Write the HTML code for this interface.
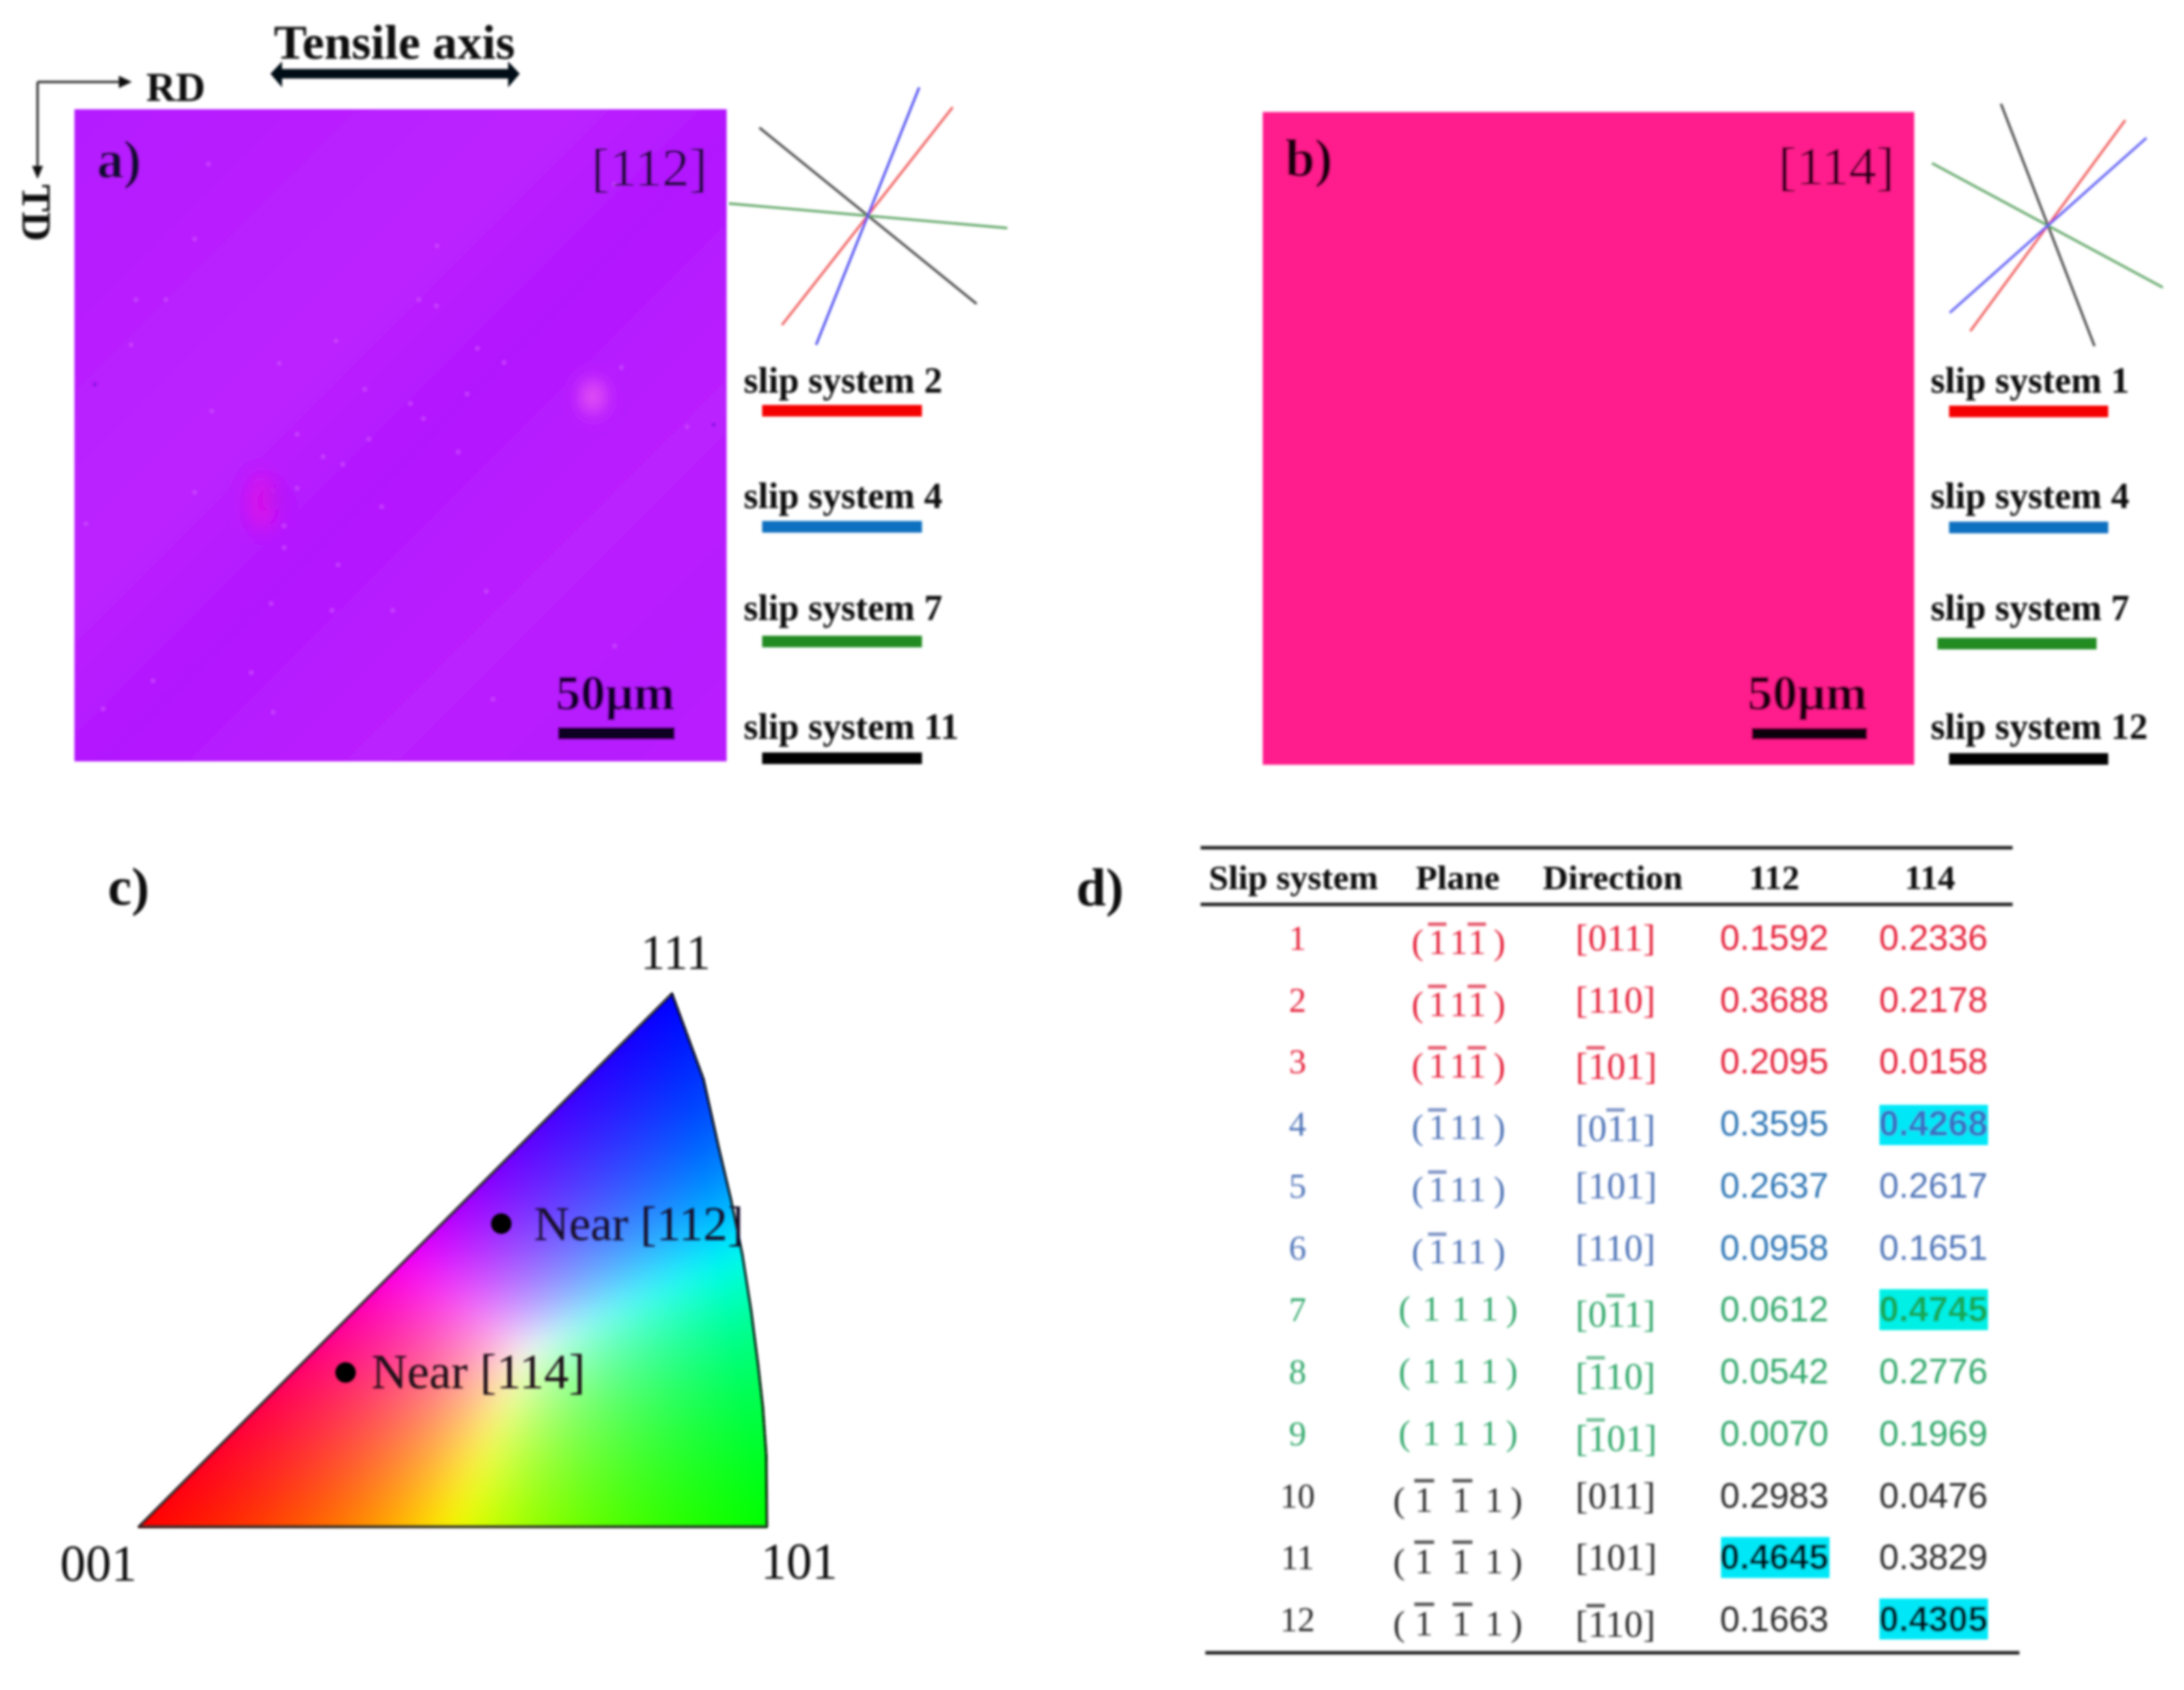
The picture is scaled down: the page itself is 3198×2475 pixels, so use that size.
<!DOCTYPE html>
<html lang="en">
<head>
<meta charset="utf-8">
<title>Slip systems in [112] and [114] grains</title>
<style>
html,body{margin:0;padding:0;background:#fff;width:3198px;height:2475px;overflow:hidden}
#ipf{position:absolute;left:0;top:0;filter:blur(1.4px)}
#fig{position:absolute;left:0;top:0}
text{font-family:"Liberation Serif",serif;fill:#0a0a0a}
.b{font-weight:bold}
.leg{font-weight:bold;font-size:54px;fill:#111}
.lab{font-weight:bold;font-size:78px}
.hd{font-weight:bold;font-size:50px}
.n{font-size:51px;text-anchor:middle}
.p{font-size:52px}
.d{font-size:55px}
.v{font-family:"Liberation Sans",sans-serif;font-size:52px;text-anchor:middle}
.vb{font-family:"Liberation Sans",sans-serif;font-size:52px;font-weight:bold;text-anchor:middle}
.red text{fill:#e5243b}.red rect.o{fill:#e5566a}
.blu text{fill:#4f74b8}.blu rect.o{fill:#7d93c5}
.grn text{fill:#33a86c}.grn rect.o{fill:#6fbf95}
.blk text{fill:#2a2a2a}.blk rect.o{fill:#555}
.c112{fill:#2f76b5 !important}
</style>
</head>
<body>
<canvas id="ipf" width="1300" height="2300"></canvas>
<svg id="fig" xmlns="http://www.w3.org/2000/svg" width="3198" height="2475" viewBox="0 0 3198 2475">
<defs>
<filter id="soft" filterUnits="userSpaceOnUse" x="0" y="0" width="3198" height="2475"><feGaussianBlur stdDeviation="1.8"/></filter>
<filter id="glow" filterUnits="userSpaceOnUse" x="0" y="0" width="3198" height="2475"><feGaussianBlur stdDeviation="14"/></filter>
<linearGradient id="bandsA" gradientUnits="userSpaceOnUse" x1="109" y1="160" x2="1064" y2="1115">
<stop offset="0" stop-color="#b41bff"/>
<stop offset=".2" stop-color="#b81fff"/>
<stop offset=".38" stop-color="#bb22ff"/>
<stop offset=".52" stop-color="#b216ff"/>
<stop offset=".72" stop-color="#ba20ff"/>
<stop offset=".88" stop-color="#b61cff"/>
<stop offset="1" stop-color="#b91eff"/>
</linearGradient>
<clipPath id="clipa"><rect x="109" y="160" width="955" height="955"/></clipPath>
</defs>
<g filter="url(#soft)">

<!-- orientation key -->
<g>
<path d="M55 120H176M55 120V244" fill="none" stroke="#333" stroke-width="3.5"/>
<path d="M193 120L174 111V129Z" fill="#111"/>
<path d="M55 262L47 243H63Z" fill="#111"/>
<text class="b" x="214" y="148" font-size="60">RD</text>
<text class="b" font-size="60" transform="translate(33 270) rotate(90)">TD</text>
</g>
<g>
<text class="b" x="401" y="86" font-size="71" textLength="353" lengthAdjust="spacingAndGlyphs">Tensile axis</text>
<path d="M396 108L413 90V101H744V90L761 108L744 128V115H413V128Z" fill="#050818"/>
</g>

<!-- panel a -->
<g>
<rect x="109" y="160" width="955" height="955" fill="url(#bandsA)"/>
<g clip-path="url(#clipa)">
<ellipse cx="868" cy="581" rx="16" ry="24" fill="#f060f0" filter="url(#glow)"/>
<ellipse cx="384" cy="735" rx="20" ry="40" fill="#dc10e8" filter="url(#glow)"/>
<circle cx="400" cy="730" r="9" fill="#7a28e8" opacity=".7" filter="url(#glow)"/>
<path d="M199 439h0M243 439h0M613 439h0M639 448h0M192 505h0M492 499h0M409 532h0M738 531h0M699 510h0M534 570h0M684 577h0M601 591h0M620 613h0M310 602h0M435 636h0M540 643h0M473 669h0M502 680h0M671 662h0M285 721h0M435 715h0M559 742h0M416 770h0M416 802h0M495 827h0M712 866h0M397 884h0M486 894h0M575 894h0M368 985h0M224 997h0M900 946h0M722 1024h0M151 1038h0M400 1043h0M126 767h0M910 538h0M1006 625h0M305 240h0M285 350h0M640 360h0M900 270h0" stroke="#d04cff" stroke-width="7" stroke-linecap="round" opacity=".65" fill="none"/>
<path d="M139 563h0M1045 622h0" stroke="#8a14e0" stroke-width="6" stroke-linecap="round" fill="none"/>
</g>
<text class="lab" x="142" y="260" style="fill:#0a0a30">a)</text>
<text x="866" y="272" font-size="78" textLength="170" lengthAdjust="spacingAndGlyphs" style="fill:#160830">[112]</text>
<text class="b" x="814" y="1039" font-size="72" textLength="174" lengthAdjust="spacingAndGlyphs" style="fill:#0a0528">50μm</text>
<rect x="817" y="1065" width="171" height="18" fill="#0a0520"/>
</g>

<g stroke-width="3.4" fill="none">
<path d="M1112 187L1430 445" stroke="#444"/>
<path d="M1067 298L1475 334" stroke="#5fa565"/>
<path d="M1145 476L1395 157" stroke="#f05a5a"/>
<path d="M1195 505L1346 128" stroke="#4a4af0"/>
</g>
<g>
<text class="leg" x="1089" y="575">slip system 2</text>
<rect x="1116" y="593" width="234" height="17" fill="#f50000"/>
<text class="leg" x="1089" y="744">slip system 4</text>
<rect x="1116" y="763" width="234" height="17" fill="#0f6fc0"/>
<text class="leg" x="1089" y="908">slip system 7</text>
<rect x="1116" y="931" width="234" height="17" fill="#228b22"/>
<text class="leg" x="1089" y="1082">slip system 11</text>
<rect x="1116" y="1102" width="234" height="17" fill="#000"/>
</g>

<!-- panel b -->
<g>
<rect x="1849" y="164" width="954" height="956" fill="#ff1a8c"/>
<text class="lab" x="1882" y="258" style="fill:#14040c">b)</text>
<text x="2604" y="270" font-size="78" textLength="170" lengthAdjust="spacingAndGlyphs" style="fill:#200612">[114]</text>
<text class="b" x="2559" y="1039" font-size="72" textLength="175" lengthAdjust="spacingAndGlyphs" style="fill:#14040c">50μm</text>
<rect x="2565" y="1066" width="169" height="17" fill="#0c0208"/>
</g>

<g stroke-width="3.4" fill="none">
<path d="M2930 152L3067 507" stroke="#444"/>
<path d="M2829 239L3167 421" stroke="#5fa565"/>
<path d="M2885 485L3112 176" stroke="#f05a5a"/>
<path d="M2855 458L3143 202" stroke="#5a5af5"/>
</g>
<g>
<text class="leg" x="2827" y="575">slip system 1</text>
<rect x="2854" y="594" width="233" height="17" fill="#f50000"/>
<text class="leg" x="2827" y="744">slip system 4</text>
<rect x="2854" y="764" width="233" height="17" fill="#0f6fc0"/>
<text class="leg" x="2827" y="908">slip system 7</text>
<rect x="2837" y="934" width="233" height="17" fill="#228b22"/>
<text class="leg" x="2827" y="1082">slip system 12</text>
<rect x="2854" y="1103" width="233" height="17" fill="#000"/>
</g>

<!-- panel c -->
<g>
<text class="lab" x="158" y="1325">c)</text>
<path d="M203 2236L984 1455L1030 1580L1053 1683L1070 1755L1087 1837L1100 1920L1110 1998L1117 2060L1122 2130L1123 2236Z" fill="none" stroke="#111" stroke-width="3.2" stroke-linejoin="round"/>
<path d="M203 2236H1123" stroke="#333" stroke-width="4"/>
<text x="938" y="1419" font-size="72">111</text>
<text x="88" y="2315" font-size="75">001</text>
<text x="1114" y="2312" font-size="75">101</text>
<circle cx="734" cy="1792" r="15" fill="#000"/>
<circle cx="506" cy="2010" r="15" fill="#000"/>
<text x="782" y="1816" font-size="71" style="fill:#16102a">Near [112]</text>
<text x="544" y="2033" font-size="72" textLength="313" lengthAdjust="spacingAndGlyphs" style="fill:#1a0a12">Near [114]</text>
</g>

<!-- panel d table -->
<g>
<text class="lab" x="1576" y="1326">d)</text>
<rect x="1758" y="1239" width="1189" height="5" fill="#1c1c1c"/>
<rect x="1758" y="1322" width="1189" height="5" fill="#1c1c1c"/>
<rect x="1765" y="2418" width="1192" height="5" fill="#1c1c1c"/>
<g>
<text class="hd" x="1770" y="1302" textLength="248" lengthAdjust="spacingAndGlyphs">Slip system</text>
<text class="hd" x="2073" y="1302" textLength="123" lengthAdjust="spacingAndGlyphs">Plane</text>
<text class="hd" x="2259" y="1302" textLength="205" lengthAdjust="spacingAndGlyphs">Direction</text>
<text class="hd" x="2561" y="1302" textLength="74" lengthAdjust="spacingAndGlyphs">112</text>
<text class="hd" x="2789" y="1302" textLength="74" lengthAdjust="spacingAndGlyphs">114</text>
</g>

<g class="red" transform="translate(0 1391)">
<text class="n" x="1900" y="0">1</text>
<text class="p" x="2067 2092 2123 2150 2187" y="6">(111)</text><rect class="o" x="2091" y="-40" width="27" height="5"/><rect class="o" x="2149" y="-40" width="27" height="5"/>
<text class="d" x="2307" y="1">[011]</text>
<text class="v" x="2598" y="0">0.1592</text><text class="v" x="2831" y="0">0.2336</text>
</g>
<g class="red" transform="translate(0 1482)">
<text class="n" x="1900" y="0">2</text>
<text class="p" x="2067 2092 2123 2150 2187" y="6">(111)</text><rect class="o" x="2091" y="-40" width="27" height="5"/><rect class="o" x="2149" y="-40" width="27" height="5"/>
<text class="d" x="2307" y="1">[110]</text>
<text class="v" x="2598" y="0">0.3688</text><text class="v" x="2831" y="0">0.2178</text>
</g>
<g class="red" transform="translate(0 1572)">
<text class="n" x="1900" y="0">3</text>
<text class="p" x="2067 2092 2123 2150 2187" y="6">(111)</text><rect class="o" x="2091" y="-40" width="27" height="5"/><rect class="o" x="2149" y="-40" width="27" height="5"/>
<text class="d" x="2307" y="8">[101]</text><rect class="o" x="2323" y="-40" width="27" height="5"/>
<text class="v" x="2598" y="0">0.2095</text><text class="v" x="2831" y="0">0.0158</text>
</g>
<g class="blu" transform="translate(0 1663)">
<text class="n" x="1900" y="0">4</text>
<text class="p" x="2067 2092 2123 2150 2187" y="5">(111)</text><rect class="o" x="2091" y="-40" width="27" height="5"/>
<text class="d" x="2307" y="8">[011]</text><rect class="o" x="2352" y="-40" width="27" height="5"/>
<text class="v c112" x="2598" y="0">0.3595</text>
<rect x="2752" y="-45" width="159" height="59" fill="#00e8f8"/>
<text class="vb" x="2831" y="0" style="fill:#3a6fc4">0.4268</text>
</g>
<g class="blu" transform="translate(0 1754)">
<text class="n" x="1900" y="0">5</text>
<text class="p" x="2067 2092 2123 2150 2187" y="5">(111)</text><rect class="o" x="2091" y="-40" width="27" height="5"/>
<text class="d" x="2307" y="1">[101]</text>
<text class="v c112" x="2598" y="0">0.2637</text><text class="v" x="2831" y="0">0.2617</text>
</g>
<g class="blu" transform="translate(0 1845)">
<text class="n" x="1900" y="0">6</text>
<text class="p" x="2067 2092 2123 2150 2187" y="5">(111)</text><rect class="o" x="2091" y="-40" width="27" height="5"/>
<text class="d" x="2307" y="1">[110]</text>
<text class="v c112" x="2598" y="0">0.0958</text><text class="v" x="2831" y="0">0.1651</text>
</g>
<g class="grn" transform="translate(0 1935)">
<text class="n" x="1900" y="0">7</text>
<text class="p" x="2048 2083 2126 2168 2205" y="-1">(111)</text>
<text class="d" x="2307" y="8">[011]</text><rect class="o" x="2352" y="-40" width="27" height="5"/>
<text class="v" x="2598" y="0">0.0612</text>
<rect x="2752" y="-47" width="159" height="60" fill="#00f0e6"/>
<text class="vb" x="2831" y="0" style="fill:#12a850">0.4745</text>
</g>
<g class="grn" transform="translate(0 2026)">
<text class="n" x="1900" y="0">8</text>
<text class="p" x="2048 2083 2126 2168 2205" y="-1">(111)</text>
<text class="d" x="2307" y="8">[110]</text><rect class="o" x="2323" y="-40" width="27" height="5"/>
<text class="v" x="2598" y="0">0.0542</text><text class="v" x="2831" y="0">0.2776</text>
</g>
<g class="grn" transform="translate(0 2117)">
<text class="n" x="1900" y="0">9</text>
<text class="p" x="2048 2083 2126 2168 2205" y="-1">(111)</text>
<text class="d" x="2307" y="8">[101]</text><rect class="o" x="2323" y="-40" width="27" height="5"/>
<text class="v" x="2598" y="0">0.0070</text><text class="v" x="2831" y="0">0.1969</text>
</g>
<g class="blk" transform="translate(0 2208)">
<text class="n" x="1900" y="0">10</text>
<text class="p" x="2040 2072 2127 2175 2212" y="6">(111)</text><rect class="o" x="2071" y="-42" width="29" height="5"/><rect class="o" x="2127" y="-42" width="29" height="5"/>
<text class="d" x="2307" y="1">[011]</text>
<text class="v" x="2598" y="0">0.2983</text><text class="v" x="2831" y="0">0.0476</text>
</g>
<g class="blk" transform="translate(0 2298)">
<text class="n" x="1900" y="0">11</text>
<text class="p" x="2040 2072 2127 2175 2212" y="6">(111)</text><rect class="o" x="2071" y="-42" width="29" height="5"/><rect class="o" x="2127" y="-42" width="29" height="5"/>
<text class="d" x="2307" y="1">[101]</text>
<rect x="2520" y="-47" width="159" height="60" fill="#00e8f8"/>
<text class="vb" x="2598" y="0" style="fill:#05101a">0.4645</text>
<text class="v" x="2831" y="0">0.3829</text>
</g>
<g class="blk" transform="translate(0 2389)">
<text class="n" x="1900" y="0">12</text>
<text class="p" x="2040 2072 2127 2175 2212" y="6">(111)</text><rect class="o" x="2071" y="-42" width="29" height="5"/><rect class="o" x="2127" y="-42" width="29" height="5"/>
<text class="d" x="2307" y="8">[110]</text><rect class="o" x="2323" y="-40" width="27" height="5"/>
<text class="v" x="2598" y="0">0.1663</text>
<rect x="2752" y="-48" width="159" height="60" fill="#00e8f8"/>
<text class="vb" x="2831" y="0" style="fill:#05101a">0.4305</text>
</g>
</g>
</g>
</svg>
<script>
// Colour key for the inverse pole figure: barycentric mix of the three poles.
var poleRed = [203, 2236];
var poleGreen = [1123, 2236];
var poleBlue = [984, 1455];
var arcY = [1455, 1580, 1683, 1755, 1837, 1920, 1998, 2060, 2130, 2236];
var arcX = [984, 1030, 1053, 1070, 1087, 1100, 1110, 1117, 1122, 1123];
(function () {
  var c = document.getElementById('ipf');
  var ctx = c.getContext('2d');
  var x0 = 190, y0 = 1445, w = 950, h = 800;
  var img = ctx.createImageData(w, h);
  var d = img.data;
  var span = poleGreen[0] - poleRed[0];
  var tall = poleRed[1] - poleBlue[1];
  var p = 12;
  function edge(y) {
    for (var i = 1; i < arcY.length; i++) {
      if (y <= arcY[i]) {
        var t = (y - arcY[i - 1]) / (arcY[i] - arcY[i - 1]);
        return arcX[i - 1] + t * (arcX[i] - arcX[i - 1]);
      }
    }
    return arcX[arcX.length - 1];
  }
  for (var py = 0; py < h; py++) {
    var y = y0 + py;
    if (y < poleBlue[1] || y > poleRed[1]) continue;
    var right = edge(y);
    var left = poleRed[0] + (poleRed[1] - y) * (poleBlue[0] - poleRed[0]) / tall;
    for (var px = 0; px < w; px++) {
      var x = x0 + px;
      if (x < left || x > right) continue;
      var cb = (poleRed[1] - y) / tall;
      var cg = (x - poleRed[0] - cb * (poleBlue[0] - poleRed[0])) / span;
      var cr = 1 - cb - cg;
      cr = Math.max(cr, 0); cg = Math.max(cg, 0); cb = Math.max(cb, 0);
      var m = Math.pow(Math.pow(cr, p) + Math.pow(cg, p) + Math.pow(cb, p), 1 / p);
      var o = (py * w + px) * 4;
      d[o] = Math.min(255, 255 * cr / m);
      d[o + 1] = Math.min(255, 255 * cg / m);
      d[o + 2] = Math.min(255, 255 * cb / m);
      d[o + 3] = 255;
    }
  }
  ctx.putImageData(img, x0, y0);
})();
</script>
</body>
</html>
